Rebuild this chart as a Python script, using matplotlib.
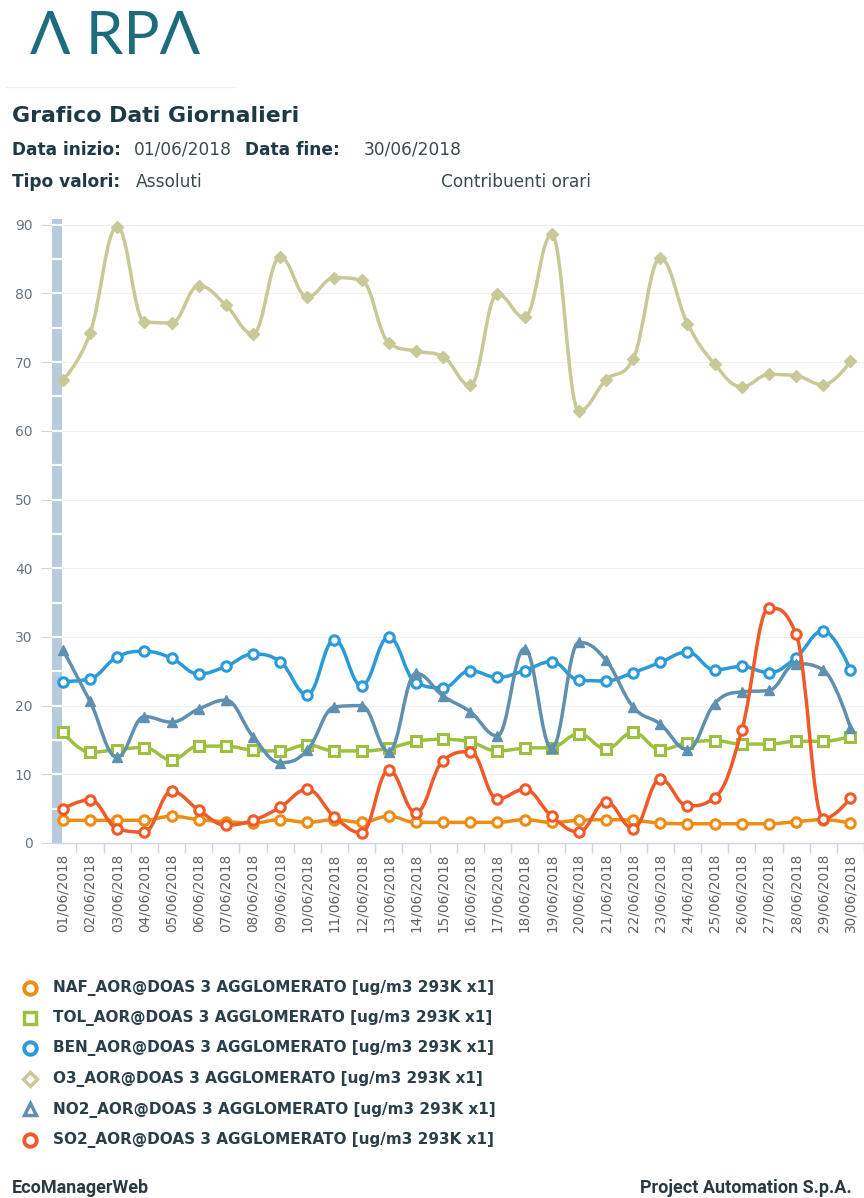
import matplotlib
matplotlib.use('Agg')
import matplotlib.pyplot as plt
from matplotlib.path import Path
from matplotlib.patches import PathPatch
import numpy as np

# ---- data ----
dates = ['%02d/06/2018' % d for d in range(1, 31)]

naf = [3.3, 3.3, 3.3, 3.3, 3.9, 3.4, 3.1, 2.9, 3.4, 3.0,
       3.4, 3.0, 3.9, 3.0, 3.0, 3.0, 3.0, 3.4, 3.0, 3.3,
       3.4, 3.3, 2.9, 2.8, 2.8, 2.8, 2.8, 3.1, 3.4, 2.9]
tol = [16.1, 13.2, 13.6, 13.9, 12.1, 14.1, 14.1, 13.5, 13.4, 14.3,
       13.4, 13.4, 13.8, 14.8, 15.1, 14.7, 13.4, 13.8, 13.9, 15.9,
       13.7, 16.1, 13.6, 14.6, 14.9, 14.4, 14.4, 14.8, 14.8, 15.5]
ben = [23.5, 23.9, 27.1, 27.9, 26.9, 24.6, 25.7, 27.5, 26.4, 21.6,
       29.6, 22.9, 30.0, 23.3, 22.6, 25.1, 24.1, 25.1, 26.4, 23.7,
       23.6, 24.8, 26.3, 27.8, 25.2, 25.7, 24.8, 27.0, 30.9, 25.2]
o3 = [67.4, 74.2, 89.7, 75.9, 75.7, 81.1, 78.3, 74.1, 85.3, 79.5,
      82.3, 81.9, 72.8, 71.6, 70.8, 66.6, 79.9, 76.5, 88.6, 62.9,
      67.4, 70.5, 85.1, 75.6, 69.7, 66.4, 68.2, 68.0, 66.7, 70.1]
no2 = [28.1, 20.6, 12.5, 18.4, 17.6, 19.5, 20.8, 15.5, 11.7, 13.5,
       19.8, 20.0, 13.3, 24.7, 21.4, 19.1, 15.6, 28.3, 13.8, 29.2,
       26.6, 19.8, 17.3, 13.6, 20.3, 22.0, 22.2, 26.1, 25.2, 16.8]
so2 = [5.0, 6.3, 2.1, 1.6, 7.5, 4.8, 2.6, 3.3, 5.2, 7.8,
       3.8, 1.5, 10.6, 4.4, 12.0, 13.3, 6.4, 7.8, 3.9, 1.6,
       6.0, 2.1, 9.3, 5.4, 6.6, 16.4, 34.2, 30.4, 3.5, 6.5]

names = ['NAF', 'TOL', 'BEN', 'O3', 'NO2', 'SO2']
suffix = '_AOR@DOAS 3 AGGLOMERATO [ug/m3 293K x1]'
colors = ['#ee8c14', '#9dc040', '#2b9ad8', '#c8c996', '#5f90b0', '#f05a28']
markers = ['o', 's', 'o', 'D', '^', 'o']
series = [naf, tol, ben, o3, no2, so2]

W, H = 864, 1198


def spline_path(ys):
    # highcharts style spline (smoothing 1.5)
    xs = np.arange(len(ys), dtype=float)
    ys = np.asarray(ys, dtype=float)
    n = len(ys)
    lc = [(xs[i], ys[i]) for i in range(n)]
    rc = [(xs[i], ys[i]) for i in range(n)]
    sm = 1.5
    den = sm + 1
    for i in range(1, n - 1):
        px, py = xs[i], ys[i]
        lx = (sm * px + xs[i - 1]) / den
        ly = (sm * py + ys[i - 1]) / den
        rx = (sm * px + xs[i + 1]) / den
        ry = (sm * py + ys[i + 1]) / den
        corr = (ry - ly) * (rx - px) / (rx - lx) + py - ry
        ly += corr
        ry += corr
        last, nxt = ys[i - 1], ys[i + 1]
        if ly > last and ly > py:
            ly = max(last, py)
            ry = 2 * py - ly
        elif ly < last and ly < py:
            ly = min(last, py)
            ry = 2 * py - ly
        if ry > nxt and ry > py:
            ry = max(nxt, py)
            ly = 2 * py - ry
        elif ry < nxt and ry < py:
            ry = min(nxt, py)
            ly = 2 * py - ry
        lc[i] = (lx, ly)
        rc[i] = (rx, ry)
    verts = [(xs[0], ys[0])]
    codes = [Path.MOVETO]
    for i in range(1, n):
        verts += [rc[i - 1], lc[i], (xs[i], ys[i])]
        codes += [Path.CURVE4] * 3
    return Path(verts, codes)


fig = plt.figure(figsize=(W / 100, H / 100), dpi=100)
fig.patch.set_facecolor('white')

# main plot, placed in pixels
ax_l, ax_r, ax_t, ax_b = 52, 864, 219, 843
ax = fig.add_axes([ax_l / W, 1 - ax_b / H, (ax_r - ax_l) / W, (ax_b - ax_t) / H])
step = (857 - 63) / 29.0
ax.set_xlim(-(63 - ax_l) / step, 29 + (ax_r - 857) / step)
ax.set_ylim(0, (ax_b - ax_t) / 6.87)

for s in ['top', 'right', 'left']:
    ax.spines[s].set_visible(False)
ax.spines['bottom'].set_color('#ccd6eb')
ax.spines['bottom'].set_linewidth(1)

# y-axis band with white notches every 5
xl = ax.get_xlim()
ax.axvspan(xl[0], -0.03, color='#b9cadc', zorder=1, lw=0)
for v in range(5, 91, 5):
    ax.plot([xl[0], -0.03], [v, v], color='white', lw=1.6, zorder=1.5,
            solid_capstyle='butt')

ax.set_yticks(range(0, 91, 10))
ax.tick_params(axis='y', length=8, color='#ccd6eb', pad=6,
               labelsize=10, labelcolor='#667580')
ax.grid(axis='y', color='#efefef', lw=0.8, zorder=0)
ax.set_axisbelow(True)

ax.set_xticks(range(30))
ax.set_xticklabels(dates, rotation=90, fontsize=9.8, color='#606060')
ax.tick_params(axis='x', which='major', length=0, pad=8)
ax.set_xticks(np.arange(0.5, 29.6, 1), minor=True)
ax.tick_params(axis='x', which='minor', length=7, color='#ccd6eb', width=1)

for k, (vals, c, m) in enumerate(zip(series, colors, markers)):
    z = 3 + k
    ax.add_patch(PathPatch(spline_path(vals), fill=False, edgecolor=c,
                           lw=2.5, zorder=z, capstyle='round', joinstyle='round'))
    if m in ('D', '^'):
        ax.plot(range(30), vals, ls='none', marker=m, ms=6.5, mfc=c, mec=c,
                zorder=z + 0.5, clip_on=False)
    else:
        ax.plot(range(30), vals, ls='none', marker=m, ms=6.8, mfc='white',
                mec=c, mew=2.2, zorder=z + 0.5, clip_on=False)

# overlay in pixel coordinates for header, legend, footer
ov = fig.add_axes([0, 0, 1, 1], zorder=10)
ov.set_xlim(0, W)
ov.set_ylim(H, 0)
ov.axis('off')
ov.patch.set_visible(False)

pt = 72 / 100.0
teal = '#1d6c7c'
dark = '#1f3a44'

# logo
ov.text(30, 54, '\u039b RP\u039b', fontsize=60 * pt, color=teal, family='Lato',
        fontweight='normal', va='baseline', ha='left')
ov.plot([6, 235], [87, 87], color='#f2f2f2', lw=1)

ov.text(12, 122, 'Grafico Dati Giornalieri', fontsize=22 * pt, fontweight='bold',
        color=dark, va='baseline')

lab = dict(fontsize=17 * pt, fontweight='bold', color=dark, va='baseline')
val = dict(fontsize=17 * pt, color='#3c4a50', va='baseline')
ov.text(12, 155, 'Data inizio:', **lab)
ov.text(134, 155, '01/06/2018', **val)
ov.text(245, 155, 'Data fine:', **lab)
ov.text(364, 155, '30/06/2018', **val)
ov.text(12, 187, 'Tipo valori:', **lab)
ov.text(136, 187, 'Assoluti', **val)
ov.text(441, 187, 'Contribuenti orari', **val)

# legend
leg_y = [988, 1018, 1048, 1079, 1110, 1140]
for nm, c, m, y in zip(names, colors, markers, leg_y):
    if m == 'D':
        ov.plot(30, y, marker='D', ms=7, mfc='white', mec=c, mew=2.5)
    elif m == '^':
        ov.plot(30, y - 1, marker='^', ms=9, mfc='white', mec=c, mew=2.5)
    elif m == 's':
        ov.plot(30, y, marker='s', ms=9, mfc='white', mec=c, mew=2.5)
    else:
        ov.plot(30, y, marker='o', ms=9, mfc='white', mec=c, mew=2.8)
    ov.text(53, y, nm + suffix, fontsize=15.3 * pt, fontweight='bold',
            color='#2b3f48', va='center', ha='left')

# footer
ov.text(12, 1188, 'EcoManagerWeb', fontsize=18 * pt, fontweight='bold',
        color='#2b3a40', va='center', family='Roboto')
ov.text(852, 1188, 'Project Automation S.p.A.', fontsize=18 * pt, fontweight='bold',
        color='#2b3a40', va='center', ha='right', family='Roboto')

fig.savefig('out.png', dpi=100, facecolor='white')
